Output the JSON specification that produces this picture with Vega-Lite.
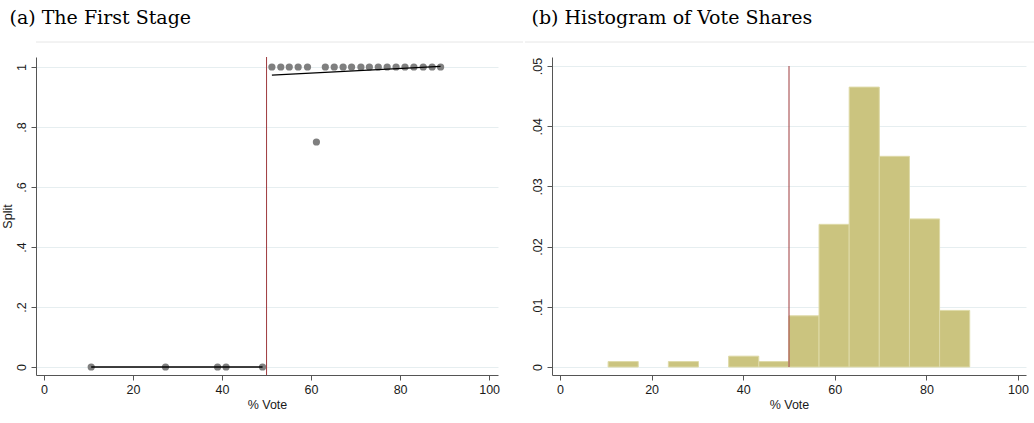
{
  "$schema": "https://vega.github.io/schema/vega-lite/v6.json",
  "background": "white",
  "padding": {"left": 0, "top": 9, "right": 0, "bottom": 0},
  "datasets": {
    "binned_means": [
      {"vote": 10.6, "split": 0}, {"vote": 27.3, "split": 0}, {"vote": 39.0, "split": 0},
      {"vote": 40.9, "split": 0}, {"vote": 49.1, "split": 0},
      {"vote": 51.2, "split": 1}, {"vote": 53.2, "split": 1}, {"vote": 55.1, "split": 1},
      {"vote": 57.1, "split": 1}, {"vote": 59.2, "split": 1}, {"vote": 61.2, "split": 0.75},
      {"vote": 63.2, "split": 1}, {"vote": 65.2, "split": 1}, {"vote": 67.2, "split": 1},
      {"vote": 69.1, "split": 1}, {"vote": 71.2, "split": 1}, {"vote": 73.1, "split": 1},
      {"vote": 75.1, "split": 1}, {"vote": 77.1, "split": 1}, {"vote": 79.1, "split": 1},
      {"vote": 81.1, "split": 1}, {"vote": 83.1, "split": 1}, {"vote": 85.2, "split": 1},
      {"vote": 87.2, "split": 1}, {"vote": 89.1, "split": 1}
    ],
    "fit": [
      {"side": "below", "vote": 10.6, "fitted": 0},
      {"side": "below", "vote": 49.1, "fitted": 0},
      {"side": "above", "vote": 51.2, "fitted": 0.973},
      {"side": "above", "vote": 89.1, "fitted": 1.002}
    ],
    "histogram": [
      {"bin_start": 10.5, "bin_end": 17.08, "density": 0.0009},
      {"bin_start": 23.66, "bin_end": 30.24, "density": 0.0009},
      {"bin_start": 36.82, "bin_end": 43.4, "density": 0.0018},
      {"bin_start": 43.4, "bin_end": 49.98, "density": 0.0009},
      {"bin_start": 49.98, "bin_end": 56.56, "density": 0.0085},
      {"bin_start": 56.56, "bin_end": 63.14, "density": 0.0237},
      {"bin_start": 63.14, "bin_end": 69.72, "density": 0.0465},
      {"bin_start": 69.72, "bin_end": 76.3, "density": 0.035},
      {"bin_start": 76.3, "bin_end": 82.88, "density": 0.0246},
      {"bin_start": 82.88, "bin_end": 89.46, "density": 0.0094}
    ]
  },
  "vconcat": [
    {
      "hconcat": [
        {
          "width": 487,
          "height": 1,
          "title": {"text": "(a) The First Stage", "anchor": "start", "dx": -26, "offset": 13},
          "data": {"values": [{}]},
          "mark": {"type": "rule", "color": "#e6e6e6", "strokeWidth": 1},
          "encoding": {"y": {"datum": 0, "scale": {"domain": [0, 1]}, "axis": null}}
        },
        {
          "width": 511,
          "height": 1,
          "title": {"text": "(b) Histogram of Vote Shares", "anchor": "start", "dx": 7, "offset": 13},
          "data": {"values": [{}]},
          "mark": {"type": "rule", "color": "#e6e6e6", "strokeWidth": 1},
          "encoding": {"y": {"datum": 0, "scale": {"domain": [0, 1]}, "axis": null}}
        }
      ],
      "spacing": 0
    },
    {
      "hconcat": [
        {
          "width": 462,
          "height": 318,
          "layer": [
            {
              "data": {"name": "binned_means"},
              "mark": {"type": "circle", "size": 52, "color": "#7f7f7f", "opacity": 1},
              "encoding": {
                "x": {
                  "field": "vote", "type": "quantitative",
                  "scale": {"domain": [-1.8, 102], "nice": false, "zero": false},
                  "axis": {"values": [0, 20, 40, 60, 80, 100], "title": "% Vote", "grid": false}
                },
                "y": {
                  "field": "split", "type": "quantitative",
                  "scale": {"domain": [-0.0267, 1.0333], "nice": false, "zero": false},
                  "axis": {
                    "values": [0, 0.2, 0.4, 0.6, 0.8, 1],
                    "title": "Split",
                    "titlePadding": 1,
                    "grid": true,
                    "labelAngle": -90,
                    "labelAlign": "center",
                    "labelBaseline": "bottom",
                    "labelExpr": "datum.value == 0 || datum.value == 1 ? format(datum.value, 'd') : slice(format(datum.value, '.1f'), 1)"
                  }
                }
              }
            },
            {
              "data": {"name": "fit"},
              "mark": {"type": "line", "color": "black", "strokeWidth": 1.4},
              "encoding": {
                "x": {"field": "vote", "type": "quantitative"},
                "y": {"field": "fitted", "type": "quantitative"},
                "detail": {"field": "side"}
              }
            },
            {
              "data": {"values": [{"cutoff": 50}]},
              "mark": {"type": "rule", "color": "#9e3a3d", "strokeWidth": 1},
              "encoding": {"x": {"field": "cutoff", "type": "quantitative"}}
            }
          ]
        },
        {
          "width": 474,
          "height": 318,
          "layer": [
            {
              "data": {"name": "histogram"},
              "mark": {"type": "rect", "color": "#cbc47f", "stroke": "#dedaa8", "strokeWidth": 1},
              "encoding": {
                "x": {
                  "field": "bin_start", "type": "quantitative",
                  "scale": {"domain": [-1.75, 101.75], "nice": false, "zero": false},
                  "axis": {"values": [0, 20, 40, 60, 80, 100], "title": "% Vote", "grid": false}
                },
                "x2": {"field": "bin_end"},
                "y": {
                  "field": "density", "type": "quantitative",
                  "scale": {"domain": [-0.00133, 0.0515], "nice": false, "zero": false},
                  "axis": {
                    "values": [0, 0.01, 0.02, 0.03, 0.04, 0.05],
                    "title": null,
                    "grid": true,
                    "labelAngle": -90,
                    "labelAlign": "center",
                    "labelBaseline": "bottom",
                    "labelExpr": "datum.value == 0 ? '0' : slice(format(datum.value, '.2f'), 1)"
                  }
                },
                "y2": {"datum": 0}
              }
            },
            {
              "data": {"values": [{"cutoff": 50, "low": 0, "high": 0.05}]},
              "mark": {"type": "rule", "color": "#9e3a3d", "strokeWidth": 1},
              "encoding": {
                "x": {"field": "cutoff", "type": "quantitative"},
                "y": {"field": "low", "type": "quantitative"},
                "y2": {"field": "high"}
              }
            }
          ]
        }
      ],
      "spacing": 31
    }
  ],
  "spacing": 13,
  "config": {
    "view": {"stroke": null},
    "title": {"font": "DejaVu Serif", "fontSize": 19, "fontWeight": "normal", "color": "black"},
    "axis": {
      "labelFont": "Liberation Sans",
      "titleFont": "Liberation Sans",
      "labelFontSize": 12.5,
      "titleFontSize": 12.5,
      "titleFontWeight": "normal",
      "labelColor": "#1a1a1a",
      "titleColor": "#1a1a1a",
      "domainColor": "#555555",
      "tickColor": "#555555",
      "gridColor": "#e6eef0",
      "tickSize": 5,
      "labelPadding": 3,
      "titlePadding": 3
    }
  }
}
